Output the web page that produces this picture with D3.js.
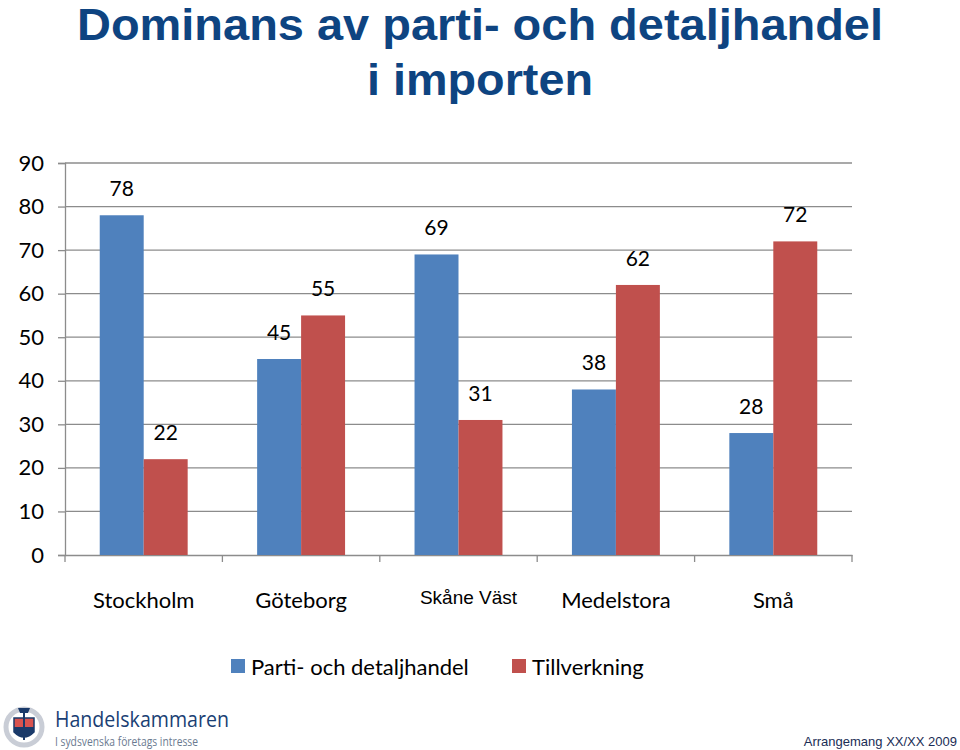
<!DOCTYPE html>
<html><head><meta charset="utf-8">
<script src="https://cdn.jsdelivr.net/npm/d3@7/dist/d3.min.js"></script>
<style>body{margin:0;background:#fff}svg{display:block}</style>
</head><body>
<svg id="c" width="960" height="750"></svg>
<script>
const categories = ["Stockholm","Göteborg","Skåne Väst","Medelstora","Små"];
const partiValues = [78,45,69,38,28];
const tillValues = [22,55,31,62,72];
const seriesNames = ["Parti- och detaljhandel","Tillverkning"];
const yTicks = [0,10,20,30,40,50,60,70,80,90];
const titleLines = ["Dominans av parti- och detaljhandel","i importen"];

const svg = d3.select("#c");
const colors = ["#4F81BD","#C0504D"];
const plotLeft = 65, plotRight = 852, plotTop = 163, plotBottom = 555;

const x = d3.scaleBand().domain(categories).range([plotLeft,plotRight]).paddingInner(0).paddingOuter(0);
const x1 = d3.scaleBand().domain([0,1]).range([0,x.bandwidth()]).paddingOuter(0.79).paddingInner(0);
const y = d3.scaleLinear().domain([0,90]).range([plotBottom,plotTop]);

// title
const titleWidths = [806,226];
svg.selectAll("text.title").data(titleLines).join("text")
  .attr("class","title")
  .attr("x",480).attr("y",(d,i)=>40+i*55)
  .attr("text-anchor","middle")
  .attr("font-family","Liberation Sans, Arial, sans-serif").attr("font-weight","bold")
  .attr("font-size",45).attr("fill","#0E4481")
  .attr("textLength",(d,i)=>titleWidths[i]).attr("lengthAdjust","spacingAndGlyphs")
  .text(d=>d);

// gridlines
svg.append("g").selectAll("line").data(yTicks.filter(t=>t>0)).join("line")
  .attr("x1",plotLeft).attr("x2",plotRight).attr("y1",d=>y(d)).attr("y2",d=>y(d))
  .attr("stroke","#8c8c8c").attr("stroke-width",1.3);

// y axis
const yAxis = svg.append("g").attr("transform",`translate(${plotLeft},0)`)
  .call(d3.axisLeft(y).tickValues(yTicks).tickSize(7).tickPadding(14));
yAxis.select(".domain").attr("stroke","#8c8c8c").attr("stroke-width",1.3);
yAxis.selectAll(".tick line").attr("stroke","#8c8c8c").attr("stroke-width",1.3);
yAxis.selectAll("text").attr("font-family","Lato, sans-serif").attr("font-size",22).attr("fill","#000");

// x axis
const xAxis = svg.append("g").attr("transform",`translate(0,${plotBottom})`)
  .call(d3.axisBottom(x).tickSize(0).tickFormat(""));
xAxis.select(".domain").attr("stroke","#8c8c8c").attr("stroke-width",1.3);
const bounds = categories.map(c=>x(c)).concat([x.range()[1]]);
svg.append("g").selectAll("line").data(bounds).join("line")
  .attr("x1",d=>d).attr("x2",d=>d).attr("y1",plotBottom).attr("y2",plotBottom+7)
  .attr("stroke","#8c8c8c").attr("stroke-width",1.3);

// category labels
svg.append("g").selectAll("text").data(categories).join("text")
  .attr("x",d=>x(d)+x.bandwidth()/2 + (d==="Skåne Väst"?10:0))
  .attr("y",d=> d==="Skåne Väst"?604:608)
  .attr("text-anchor","middle")
  .attr("font-family",d=>d==="Skåne Väst"?"Liberation Sans, Arial, sans-serif":"Lato, sans-serif")
  .attr("font-size",d=>d==="Skåne Väst"?19:22)
  .attr("fill","#000").text(d=>d);

// bars
const data = categories.map((c,i)=>({c, vals:[partiValues[i],tillValues[i]]}));
const groups = svg.append("g").selectAll("g").data(data).join("g")
  .attr("transform",d=>`translate(${x(d.c)},0)`);
groups.selectAll("rect").data(d=>d.vals.map((v,k)=>({v,k}))).join("rect")
  .attr("x",d=>x1(d.k)).attr("width",x1.bandwidth())
  .attr("y",d=>y(d.v)).attr("height",d=>y(0)-y(d.v))
  .attr("fill",d=>colors[d.k]);
groups.selectAll("text").data(d=>d.vals.map((v,k)=>({v,k}))).join("text")
  .attr("x",d=>x1(d.k)+x1.bandwidth()/2)
  .attr("y",d=>y(d.v)-19)
  .attr("text-anchor","middle")
  .attr("font-family","Lato, sans-serif").attr("font-size",21).attr("fill","#000")
  .text(d=>d.v);

// legend
const leg = svg.append("g");
const legX = [231,512];
seriesNames.forEach((n,i)=>{
  leg.append("rect").attr("x",legX[i]).attr("y",659).attr("width",14).attr("height",14).attr("fill",colors[i]);
  leg.append("text").attr("x",legX[i]+20).attr("y",675)
    .attr("font-family","Lato, sans-serif").attr("font-size",22).attr("fill","#000").text(n);
});

// logo
const logo = svg.append("g");
logo.append("circle").attr("cx",24).attr("cy",727).attr("r",18).attr("fill","none").attr("stroke","#c9cdd6").attr("stroke-width",5);
logo.append("path").attr("d","M14,718 L34,718 L34,732 Q24,742 14,732 Z").attr("fill","#d9534f").attr("stroke","#1a3a6a").attr("stroke-width",1.5);
logo.append("path").attr("d","M14,727 L34,727 L34,732 Q24,742 14,732 Z").attr("fill","#1a3a6a");
logo.append("line").attr("x1",24).attr("x2",24).attr("y1",710).attr("y2",740).attr("stroke","#1a3a6a").attr("stroke-width",2);
logo.append("path").attr("d","M18,708 L30,708 L28,713 L20,713 Z").attr("fill","#1a3a6a");
logo.append("text").attr("x",55).attr("y",727)
  .attr("font-family","Open Sans, sans-serif").attr("font-size",21).attr("fill","#1a3f74")
  .attr("textLength",174).attr("lengthAdjust","spacingAndGlyphs").text("Handelskammaren");
logo.append("text").attr("x",55).attr("y",746)
  .attr("font-family","Open Sans, sans-serif").attr("font-size",12).attr("fill","#6b7a90")
  .attr("textLength",143).attr("lengthAdjust","spacingAndGlyphs").text("I sydsvenska företags intresse");

svg.append("text").attr("x",957).attr("y",746).attr("text-anchor","end")
  .attr("font-family","Liberation Sans, Arial, sans-serif").attr("font-size",13).attr("fill","#1a2d55")
  .text("Arrangemang XX/XX 2009");
</script>
</body></html>
